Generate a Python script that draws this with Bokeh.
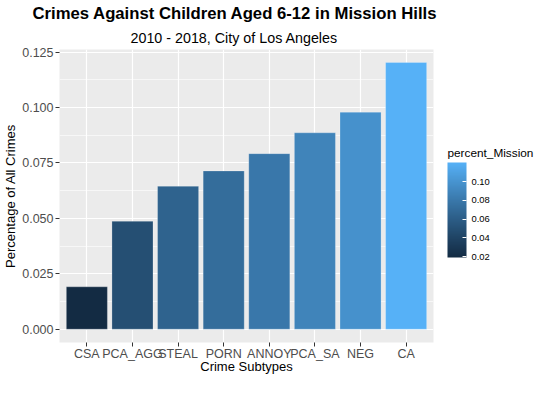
import numpy as np
from bokeh.plotting import figure
from bokeh.models import (ColumnDataSource, FactorRange, Range1d, FixedTicker,
                          PrintfTickFormatter, LinearColorMapper, ColorBar, Title)
from bokeh.transform import transform
from bokeh.embed import file_html
from bokeh.resources import INLINE

# ---- data ----
crime_types = ["CSA", "PCA_AGG", "STEAL", "PORN", "ANNOY", "PCA_SA", "NEG", "CA"]
percent_mission = [0.0191, 0.0487, 0.0645, 0.0714, 0.0792, 0.0886, 0.0979, 0.1203]
y_ticks = [0.0, 0.025, 0.05, 0.075, 0.1, 0.125]
y_minor_ticks = [0.0125, 0.0375, 0.0625, 0.0875, 0.1125]
legend_ticks = [0.02, 0.04, 0.06, 0.08, 0.10]
title_text = "Crimes Against Children Aged 6-12 in Mission Hills"
subtitle_text = "2010 - 2018, City of Los Angeles"
x_label = "Crime Subtypes"
y_label = "Percentage of All Crimes"
legend_title = "percent_Mission"

FONT = "Liberation Sans"

# ---- ggplot-like Lab gradient ----
M = np.array([[0.4124564, 0.3575761, 0.1804375],
              [0.2126729, 0.7151522, 0.0721750],
              [0.0193339, 0.1191920, 0.9503041]])
WP = np.array([0.95047, 1.0, 1.08883])


def hex_to_lab(h):
    rgb = np.array([int(h[i:i + 2], 16) for i in (1, 3, 5)]) / 255.0
    lin = np.where(rgb <= 0.04045, rgb / 12.92, ((rgb + 0.055) / 1.055) ** 2.4)
    t = (M @ lin) / WP
    d = 6 / 29
    f = np.where(t > d ** 3, np.cbrt(t), t / (3 * d * d) + 4 / 29)
    return np.array([116 * f[1] - 16, 500 * (f[0] - f[1]), 200 * (f[1] - f[2])])


def lab_to_hex(lab):
    L, a, b = lab
    fy = (L + 16) / 116
    f = np.array([fy + a / 500, fy, fy - b / 200])
    d = 6 / 29
    t = np.where(f > d, f ** 3, 3 * d * d * (f - 4 / 29))
    lin = np.clip(np.linalg.inv(M) @ (t * WP), 0, 1)
    rgb = np.where(lin <= 0.0031308, 12.92 * lin, 1.055 * lin ** (1 / 2.4) - 0.055)
    rgb = np.clip(rgb, 0, 1)
    return "#%02x%02x%02x" % tuple(int(round(c * 255)) for c in rgb)


lo_lab, hi_lab = hex_to_lab("#132B43"), hex_to_lab("#56B1F7")
palette = [lab_to_hex(lo_lab + (hi_lab - lo_lab) * k / 255) for k in range(256)]
mapper = LinearColorMapper(palette=palette, low=min(percent_mission), high=max(percent_mission))

src = ColumnDataSource(dict(crime=crime_types, pct=percent_mission))

p = figure(width=534, height=377, title=None,
           x_range=FactorRange(factors=crime_types, range_padding=0.025,
                               range_padding_units="percent"),
           y_range=Range1d(-0.00601, 0.1262),
           output_backend="svg", toolbar_location=None,
           min_border_left=59, min_border_right=101, min_border_top=47,
           min_border_bottom=35,
           background_fill_color="#EBEBEB", border_fill_color="white",
           outline_line_color=None)

p.vbar(x="crime", top="pct", width=0.9, source=src,
       fill_color=transform("pct", mapper), line_color="white", line_width=0.4,
       line_alpha=0.6)

# axes
p.yaxis.ticker = FixedTicker(ticks=y_ticks, minor_ticks=y_minor_ticks)
p.yaxis.formatter = PrintfTickFormatter(format="%.3f")
for ax in (p.xaxis[0], p.yaxis[0]):
    ax.axis_line_color = None
    ax.major_tick_line_color = "#333333"
    ax.major_tick_out = 4
    ax.major_tick_in = 0
    ax.minor_tick_line_color = None
    ax.major_label_text_color = "#4D4D4D"
    ax.major_label_text_font = FONT
    ax.major_label_text_font_size = "12.5px"
    ax.axis_label_text_font = FONT
    ax.axis_label_text_font_size = "13px"
    ax.axis_label_text_font_style = "normal"
    ax.axis_label_text_color = "black"
p.xaxis.major_label_standoff = 0
p.xaxis.axis_label_standoff = -5
p.yaxis.major_label_standoff = 2
p.yaxis.axis_label_standoff = 1
p.xaxis.axis_label = x_label
p.yaxis.axis_label = y_label

# grid
p.xgrid.grid_line_color = "white"
p.xgrid.grid_line_width = 1.2
p.ygrid.grid_line_color = "white"
p.ygrid.grid_line_width = 1.2
p.ygrid.minor_grid_line_color = "white"
p.ygrid.minor_grid_line_width = 0.6

# titles (first added sits nearest the plot)
p.add_layout(Title(text=subtitle_text, align="left", offset=71, standoff=8,
                   text_font=FONT, text_font_size="14.3px", text_font_style="normal",
                   text_color="black"), "above")
p.add_layout(Title(text=title_text, align="left", offset=-27, standoff=2,
                   text_font=FONT, text_font_size="16.7px", text_font_style="bold",
                   text_color="black"), "above")

# legend: colour bar
cb = ColorBar(color_mapper=mapper, ticker=FixedTicker(ticks=legend_ticks),
              formatter=PrintfTickFormatter(format="%.2f"), orientation="vertical",
              width=19, height=95, location=(388, 85), padding=0, margin=0,
              major_label_text_font=FONT, major_label_text_font_size="9.4px",
              major_label_text_color="black", label_standoff=5,
              major_tick_line_color="white", major_tick_in=4, major_tick_out=0,
              minor_tick_line_color=None, bar_line_color=None,
              background_fill_alpha=0, border_line_color=None)
p.add_layout(cb)

# legend title: carried by a transparent horizontal bar so it reads horizontally
cb_title = ColorBar(color_mapper=mapper, ticker=FixedTicker(ticks=[]),
                    orientation="horizontal", width=86, height=1,
                    location=(388, 182), padding=0, margin=0, scale_alpha=0,
                    title=legend_title, title_text_font=FONT,
                    title_text_font_size="11.8px", title_text_font_style="normal",
                    title_text_color="black", title_standoff=0,
                    major_label_text_alpha=0, major_tick_line_color=None,
                    minor_tick_line_color=None, bar_line_color=None,
                    background_fill_alpha=0, border_line_color=None)
p.add_layout(cb_title)

open("out.html", "w").write(file_html(p, INLINE))
